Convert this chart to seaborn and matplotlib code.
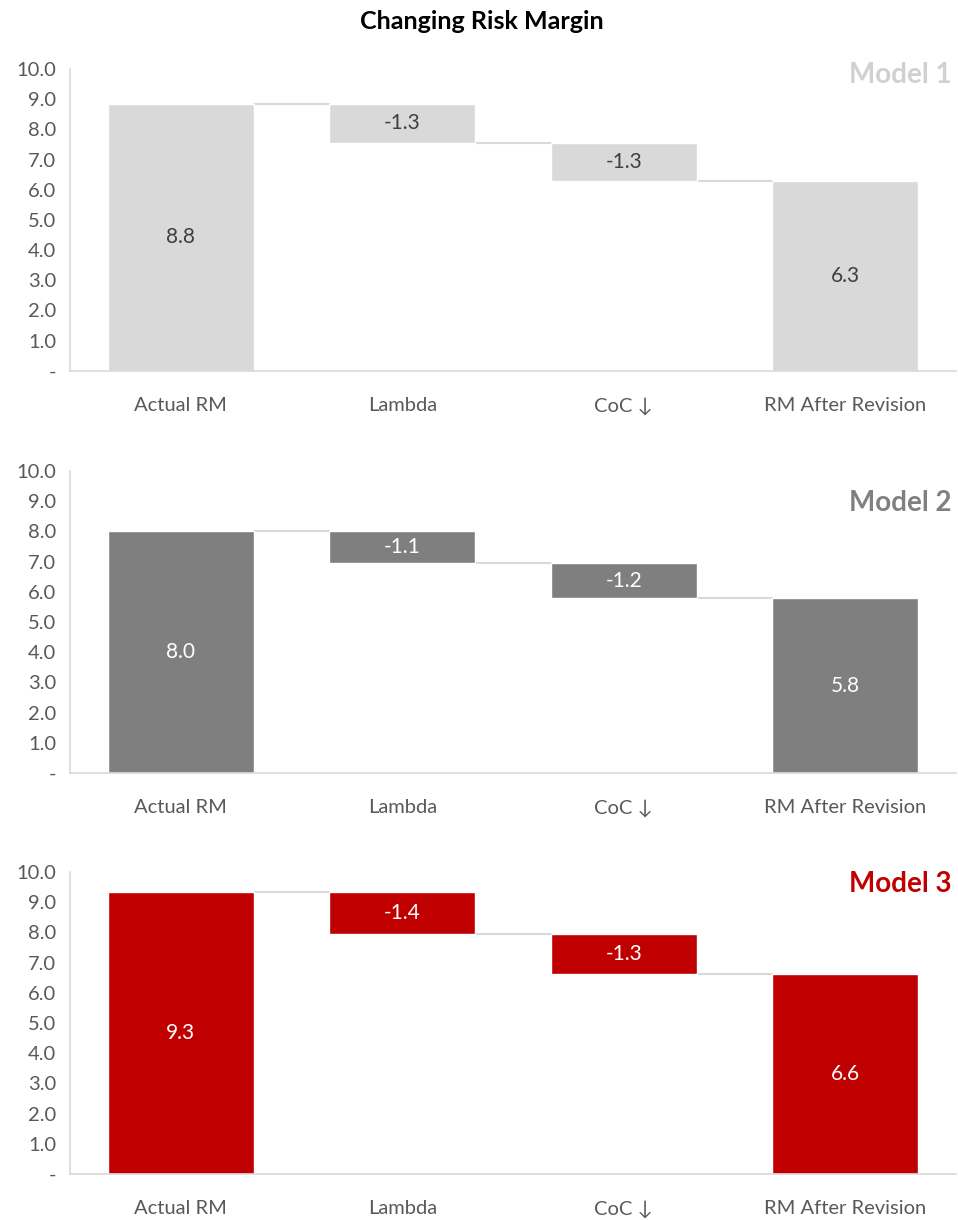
import numpy as np
import pandas as pd
import seaborn as sns
import matplotlib.pyplot as plt
from matplotlib.ticker import FuncFormatter

sns.set_theme(style="white")
plt.rcParams['font.family'] = ['Lato', 'DejaVu Sans']

# %% Dados
steps = ["Actual RM", "Lambda", "CoC \u2193", "RM After Revision"]
models = ["Model 1", "Model 2", "Model 3"]
actual_rm = [8.84, 8.02, 9.34]
lambda_chg = [-1.29, -1.08, -1.40]
coc_chg = [-1.26, -1.16, -1.32]
bar_colors = ["#d9d9d9", "#7f7f7f", "#c00000"]
label_colors = ["#404040", "white", "white"]
title_colors = ["#d0d0d0", "#808080", "#c00000"]
title_ypos = [0.98, 0.895, 0.96]

fig = plt.figure(figsize=(9.58, 12.2), dpi=100)
fig.text(0.503, 0.982, "Changing Risk Margin", ha="center", va="center",
         fontsize=18, fontweight="bold", color="black")

bottoms_fig = [0.696, 0.3664, 0.0377]
w = 0.66

for k, m in enumerate(models):
    ax = fig.add_axes([0.073, bottoms_fig[k], 0.925, 0.2475])
    start = actual_rm[k]
    after_l = start + lambda_chg[k]
    final = after_l + coc_chg[k]
    df = pd.DataFrame({
        "step": steps,
        "height": [start, -lambda_chg[k], -coc_chg[k], final],
        "base": [0, after_l, final, 0],
        "label": [start, lambda_chg[k], coc_chg[k], final],
    })
    sns.barplot(data=df, x="step", y="height", order=steps, bottom=df["base"].values,
                color=bar_colors[k], saturation=1, width=w, ax=ax, zorder=2)

    # conectores
    levels = [start, after_l, final]
    for i, lv in enumerate(levels):
        ax.plot([i + w / 2, i + 1 - w / 2], [lv, lv], color="#d9d9d9", lw=1.5, zorder=1)

    # rótulos
    for i, row in df.iterrows():
        ax.text(i, row["base"] + row["height"] / 2, f"{row['label']:.1f}",
                ha="center", va="center", fontsize=15, color=label_colors[k])

    ax.set_xlim(-0.5, 3.5)
    ax.set_ylim(0, 10)
    ax.set_yticks(np.arange(0, 11, 1))
    ax.yaxis.set_major_formatter(FuncFormatter(lambda v, p: "-" if v == 0 else f"{v:.1f}"))
    ax.set_xlabel("")
    ax.set_ylabel("")
    ax.tick_params(axis="y", length=0, pad=10, labelsize=14.5, labelcolor="#595959")
    ax.tick_params(axis="x", length=0, pad=19, labelsize=14.5, labelcolor="#595959")
    for s in ["top", "right"]:
        ax.spines[s].set_visible(False)
    for s in ["left", "bottom"]:
        ax.spines[s].set_color("#d9d9d9")
        ax.spines[s].set_linewidth(1.2)
    ax.text(0.995, title_ypos[k], m, transform=ax.transAxes, ha="right", va="center",
            fontsize=20, fontweight="bold", color=title_colors[k])

fig.savefig("out.png", dpi=100)
